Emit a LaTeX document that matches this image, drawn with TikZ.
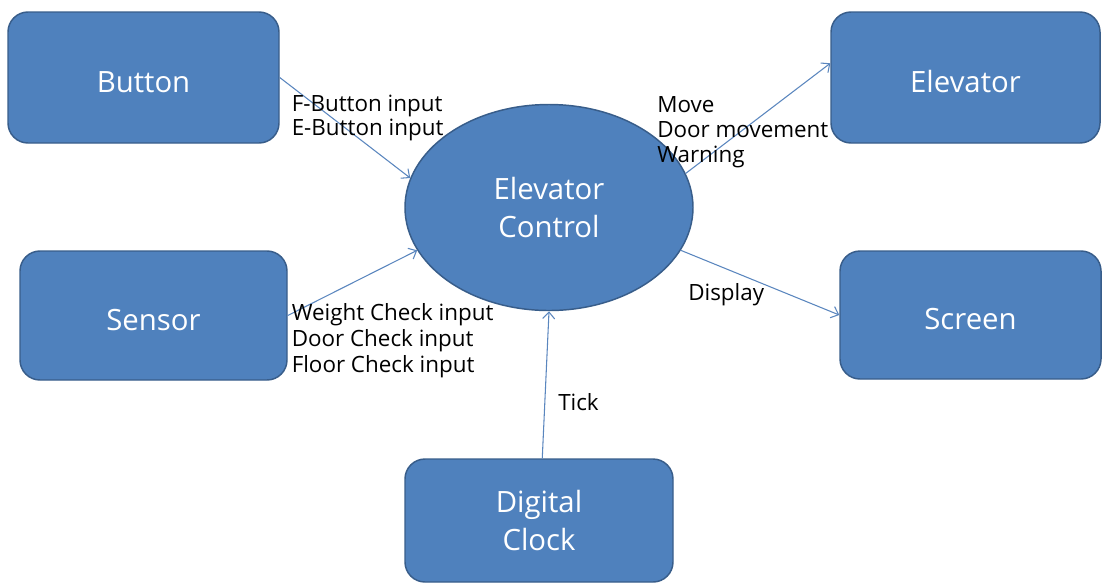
\documentclass[tikz,border=0pt]{standalone}
\usepackage{fontspec}
\setmainfont{Open Sans}
\usetikzlibrary{arrows.meta,shapes.geometric}
\definecolor{boxfill}{HTML}{4F81BD}
\definecolor{boxline}{HTML}{385D8A}
\definecolor{flow}{HTML}{5A86BE}
\begin{document}
\begin{tikzpicture}[x=0.75pt,y=-0.75pt,
  entity/.style={draw=boxline, line width=1.1pt, fill=boxfill,
    rounded corners=15pt, text=white, inner sep=0pt, align=center,
    font=\fontsize{22}{28.5}\selectfont},
  oneline/.style={text height=21.75pt, text depth=0pt},
  process/.style={ellipse, draw=boxline, line width=1.1pt, fill=boxfill,
    text=white, inner sep=0pt, align=center,
    minimum width=216pt, minimum height=154.5pt,
    font=\fontsize{22}{28.5}\selectfont},
  flowline/.style={draw=flow, line width=0.8pt,
    -{Straight Barb[length=5pt,width=9pt,line width=0.8pt]}},
  flowtext/.style={anchor=base west, inner sep=0pt, text=black,
    font=\fontsize{16.8}{19}\selectfont}
]
\useasboundingbox (0,0) rectangle (1102,583);

% external entities
\node[entity, oneline, minimum width=203.25pt, minimum height=98.25pt] (btn)  at (143.5,77.5) {Button};
\node[entity, oneline, minimum width=200.25pt, minimum height=96.75pt] (sen)  at (153.5,315.5) {Sensor};
\node[entity, oneline, minimum width=201.75pt, minimum height=98.25pt] (elev) at (965.5,77.5) {Elevator};
\node[entity, oneline, minimum width=195.75pt, minimum height=96pt]    (scr)  at (970.5,315) {Screen};
\node[entity, minimum width=201pt, minimum height=92.25pt]             (clk)  at (539,520.5) {Digital\\Clock};

% central process
\node[process] (ec) at (549,207.5) {Elevator\\Control};

% data flows
\draw[flowline] (btn.east) -- (ec.168);
\draw[flowline] (sen.east) -- (ec.198.8);
\draw[flowline] (ec.14.4) -- (elev.174.7);
\draw[flowline] (ec.-18.4) -- (scr.west);
\draw[flowline] (clk.87.2) -- (ec.south);

% flow labels
\node[flowtext] (fb) at (291.5,111.7) {F-Button input};
\node[flowtext] (eb) at (291.5,135) {E-Button input};
\node[flowtext] (mv) at (657,112.3) {Move};
\node[flowtext] (dm) at (657,137.3) {Door movement};
\node[flowtext] (wn) at (657,162.3) {Warning};
\node[flowtext] (wc) at (291.5,320.5) {Weight Check input};
\node[flowtext] (dc) at (291.5,346.5) {Door Check input};
\node[flowtext] (fc) at (291.5,372.5) {Floor Check input};
\node[flowtext] (dp) at (688,300.5) {Display};
\node[flowtext] (tk) at (558,410.7) {Tick};
\end{tikzpicture}
\end{document}
